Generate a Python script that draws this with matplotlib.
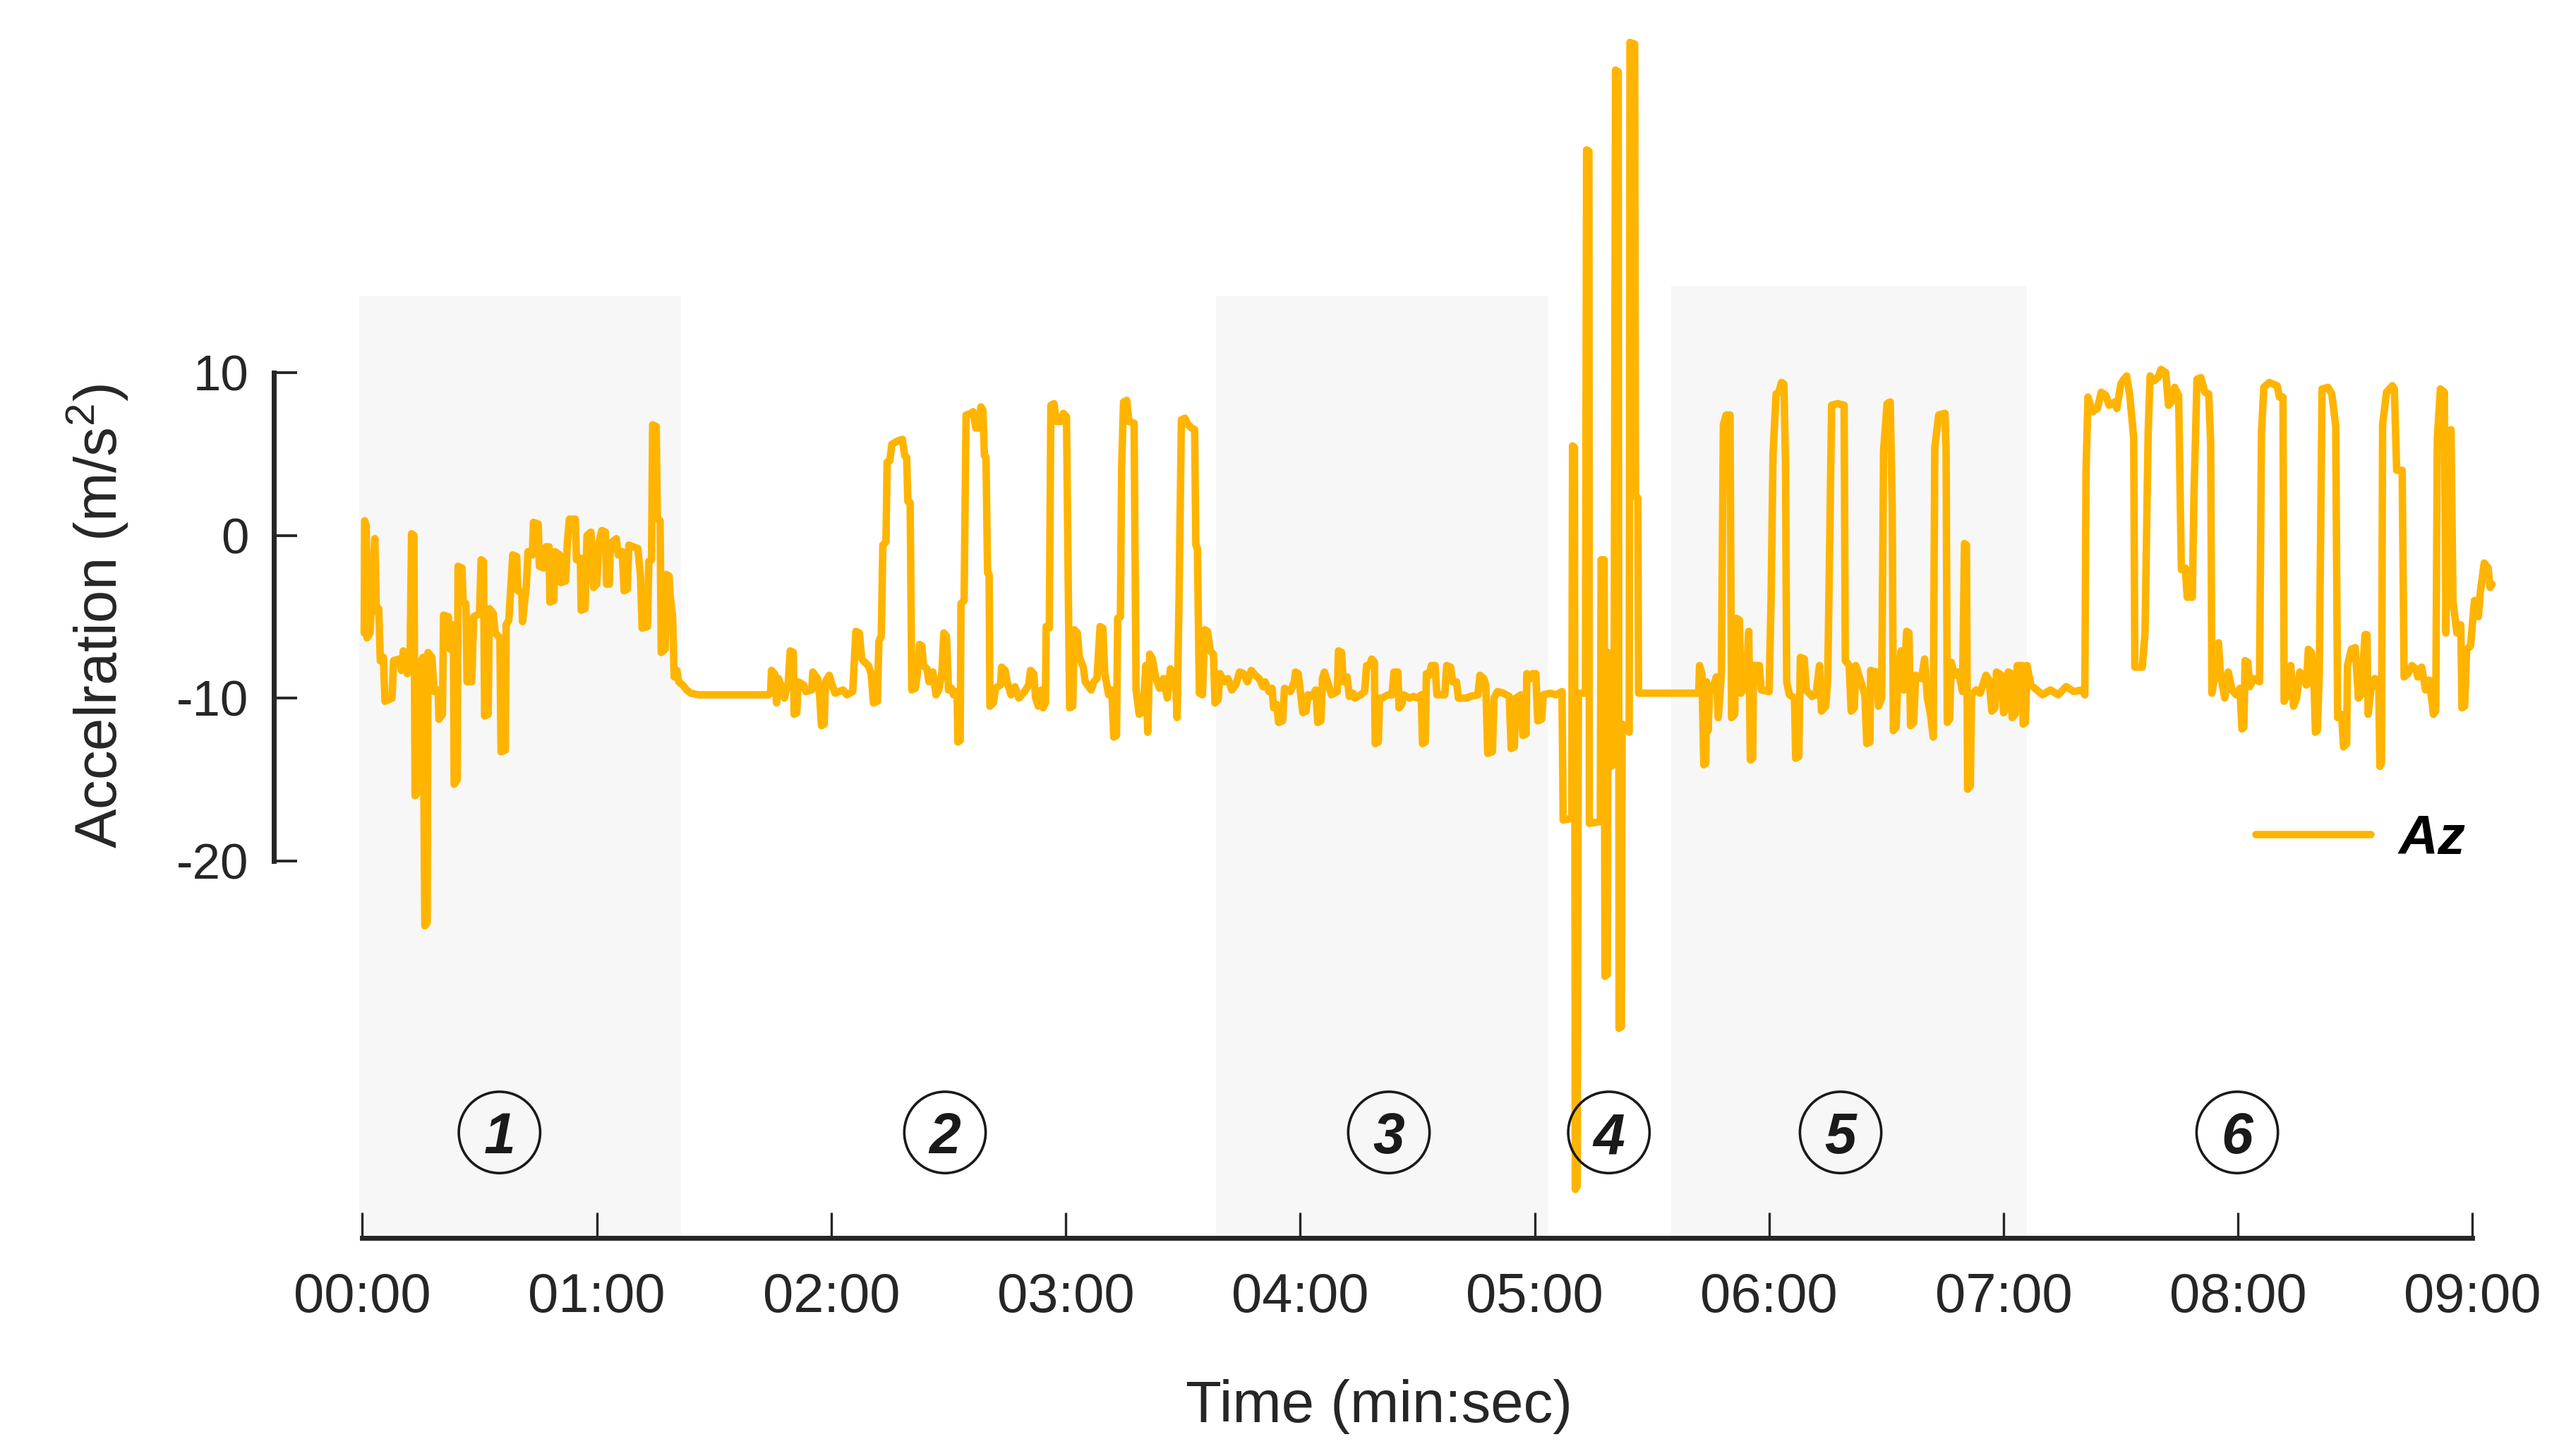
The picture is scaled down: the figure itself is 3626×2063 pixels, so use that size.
"""
Az acceleration over a 9 minute recording, split into six phases
"""
import numpy as np
import matplotlib
matplotlib.use('Agg')
import matplotlib.pyplot as plt

plt.rcParams['font.family'] = ['Liberation Sans', 'DejaVu Sans']
plt.rcParams['mathtext.fontset'] = 'custom'
plt.rcParams['mathtext.rm'] = 'Liberation Sans'
plt.rcParams['mathtext.it'] = 'Liberation Sans:italic'
plt.rcParams['mathtext.bf'] = 'Liberation Sans:bold'

# ==========================================
# DATA  (time in seconds, Az in m/s^2)
# ==========================================
phase1 = [(0.5, -6.0), (0.6, 0.9), (1.0, 0.6), (1.2, -6.3), (2.0, -6.0), (2.5, -3.0), (3.2, -0.2),
          (3.6, -4.7), (4.2, -4.5), (4.6, -7.7), (5.4, -7.5), (5.8, -10.2), (7.6, -10.0), (8.0, -7.7),
          (9.5, -7.6), (10.0, -8.3), (10.5, -7.1), (11.5, -8.5), (12.2, -8.0), (12.6, 0.1), (13.2, 0.0),
          (13.5, -16.0), (14.2, -15.8), (14.6, -8.0), (15.5, -7.5), (16.0, -24.0), (16.6, -23.8),
          (16.8, -7.2), (17.8, -7.5), (18.4, -9.6), (19.4, -9.5), (19.6, -11.3), (20.5, -11.0),
          (20.8, -4.9), (22.0, -5.0), (22.5, -7.0), (23.3, -5.5), (23.5, -15.3), (24.3, -15.0),
          (24.5, -1.9), (25.5, -2.0), (25.8, -4.1), (26.5, -4.2), (26.8, -9.0), (28.0, -9.0),
          (28.5, -5.0), (30.0, -4.8), (30.4, -1.5), (31.0, -1.6), (31.3, -11.1), (32.2, -11.0),
          (32.5, -4.5), (33.5, -4.8), (34.0, -6.0), (35.2, -6.3), (35.5, -13.3), (36.6, -13.2),
          (36.8, -5.5), (37.5, -5.2), (38.5, -1.2), (39.5, -1.3), (39.8, -3.4), (40.8, -3.5),
          (41.0, -5.3), (42.0, -3.0), (42.4, -1.0), (43.5, -1.2), (43.8, 0.8), (45.0, 0.7),
          (45.3, -1.9), (46.5, -2.0), (47.0, -0.7), (47.8, -0.7), (48.0, -4.1), (49.0, -4.0),
          (49.3, -1.0), (50.5, -1.2), (50.8, -2.9), (52.0, -2.8), (52.5, -0.3), (53.0, 1.0),
          (54.5, 1.0), (54.8, -1.5), (55.8, -1.4), (56.0, -4.6), (57.0, -4.5), (57.5, 0.0),
          (58.5, 0.2), (58.8, -1.0), (59.2, -3.2), (60.0, -3.0), (60.5, -0.5), (61.3, 0.3),
          (62.2, 0.2), (62.5, -3.0), (63.2, -3.0), (63.5, -0.5), (65.0, -0.2), (65.5, -1.2),
          (66.5, -1.0), (67.0, -3.4), (67.8, -3.3), (68.2, -0.6), (70.5, -0.8), (71.2, -2.5),
          (71.6, -5.7), (73.0, -5.6), (73.3, -1.6), (74.0, -1.5), (74.3, 6.8), (75.2, 6.7),
          (75.5, 1.0), (76.2, 0.9), (76.5, -7.2), (77.5, -7.0), (77.8, -2.4), (78.5, -2.5),
          (78.8, -3.8), (79.4, -5.0), (79.8, -8.7), (80.5, -8.3), (81.0, -9.0), (82.0, -9.2),
          (83.0, -9.5), (84.0, -9.7), (86.0, -9.8), (104.0, -9.8)]

phase2 = [(104.5, -9.6), (104.7, -8.3), (105.5, -8.5), (106.0, -10.3), (106.5, -8.8), (107.5, -9.5),
          (108.0, -10.0), (109.0, -9.0), (109.5, -7.1), (110.3, -7.2), (110.5, -11.0), (111.2, -10.9),
          (111.5, -9.0), (113.0, -9.2), (113.5, -9.6), (115.0, -9.5), (115.3, -8.4), (116.5, -8.8),
          (117.0, -9.8), (117.5, -11.7), (118.2, -11.6), (118.5, -9.0), (119.5, -8.6), (120.2, -9.2),
          (121.0, -9.7), (123.0, -9.5), (124.0, -9.8), (125.5, -9.6), (126.3, -5.9), (127.2, -6.0),
          (127.8, -7.6), (129.0, -7.9), (129.5, -8.0), (130.2, -8.5), (130.8, -10.3), (131.8, -10.2),
          (132.2, -6.5), (132.8, -6.2), (133.2, -0.6), (134.0, -0.4), (134.3, 4.5), (135.0, 4.6),
          (135.5, 5.6), (137.0, 5.8), (138.2, 5.9), (138.8, 4.9), (139.3, 4.8), (139.6, 2.1),
          (140.2, 2.0), (140.6, -9.5), (141.5, -9.4), (142.0, -8.6), (142.6, -6.7), (143.2, -6.8),
          (143.6, -8.0), (144.5, -8.2), (145.0, -9.0), (146.0, -8.4), (146.8, -9.8), (147.5, -9.5),
          (148.3, -8.5), (148.8, -6.0), (149.5, -6.2), (150.0, -9.5), (150.8, -9.4), (151.3, -9.8),
          (152.2, -9.6), (152.4, -12.7), (153.0, -12.6), (153.2, -4.2), (154.0, -4.0), (154.5, 7.4),
          (155.8, 7.5), (156.3, 7.6), (157.0, 6.6), (157.8, 6.6), (158.3, 7.9), (158.8, 7.7),
          (159.2, 4.9), (159.6, 4.8), (160.0, -2.3), (160.4, -2.4), (160.6, -10.5), (161.5, -10.3),
          (162.0, -9.4), (163.3, -9.2), (163.6, -8.1), (164.5, -8.3), (165.0, -9.0), (166.0, -9.8),
          (167.0, -9.3), (168.0, -10.0), (169.5, -9.6), (170.5, -9.2), (171.0, -8.3), (171.8, -8.5),
          (172.3, -10.0), (173.0, -10.5), (173.8, -9.5), (174.2, -10.6), (174.8, -10.3), (175.0, -5.6),
          (175.8, -5.7), (176.2, 8.0), (177.0, 8.1), (177.6, 7.0), (178.8, 7.0), (179.4, 7.5),
          (180.2, 7.3), (180.6, -2.0), (181.0, -10.6), (181.8, -10.5), (182.2, -5.8), (183.0, -6.0),
          (183.5, -7.5), (184.5, -8.1), (185.0, -9.0), (186.5, -9.5), (187.2, -9.0), (188.0, -8.8),
          (188.8, -5.6), (189.5, -5.7), (190.0, -8.5), (191.0, -9.8), (191.8, -9.5), (192.3, -12.4),
          (193.0, -12.3), (193.3, -5.1), (194.0, -5.0), (194.3, 4.1), (194.8, 8.2), (195.6, 8.3),
          (196.2, 7.0), (197.5, 6.9), (198.0, -9.5), (198.8, -11.0), (199.8, -10.8), (200.5, -8.0),
          (201.0, -12.1), (201.5, -7.3), (202.2, -7.6), (203.0, -8.7), (204.0, -9.4), (205.0, -8.8),
          (206.0, -10.0), (206.8, -8.2), (207.5, -8.5), (208.2, -9.5), (208.5, -11.2), (209.0, -3.9),
          (209.6, 7.1), (210.5, 7.2), (211.3, 6.8), (212.2, 6.6), (213.0, 6.5), (213.3, -0.6),
          (213.7, -0.8), (214.2, -9.7), (215.0, -9.8), (215.6, -5.8), (216.3, -5.9), (217.0, -7.1),
          (217.8, -7.3), (218.2, -10.3), (219.0, -10.1), (219.5, -8.5), (220.5, -9.0), (221.5, -8.8),
          (222.5, -9.5), (223.5, -9.2), (224.5, -8.4)]

phase3 = [(225.5, -8.5), (226.5, -9.0), (227.5, -8.3), (228.5, -8.6), (229.5, -8.8), (230.5, -9.3),
          (231.0, -9.0), (232.0, -9.6), (232.8, -9.4), (233.2, -10.6), (234.0, -10.4), (234.5, -11.5),
          (235.5, -11.4), (236.0, -9.4), (237.5, -9.6), (238.5, -9.0), (238.8, -8.4), (239.5, -8.5),
          (240.0, -9.5), (240.7, -10.9), (241.5, -10.8), (242.0, -9.8), (243.0, -9.9), (244.0, -9.5),
          (244.5, -11.5), (245.3, -11.4), (245.7, -8.8), (246.2, -8.4), (247.0, -9.0), (248.0, -9.8),
          (249.5, -9.6), (249.8, -7.1), (250.6, -7.2), (251.0, -9.0), (252.0, -8.7), (252.6, -9.9),
          (253.5, -9.7), (254.0, -10.0), (255.5, -9.8), (256.5, -9.6), (257.0, -8.0), (257.8, -8.0),
          (258.3, -7.6), (259.0, -7.8), (259.2, -12.8), (260.0, -12.7), (260.3, -10.0), (261.0, -10.0),
          (262.5, -9.8), (263.5, -9.8), (264.0, -8.4), (265.0, -8.4), (265.3, -10.6), (266.0, -10.4),
          (266.5, -9.8), (268.0, -10.0), (269.0, -9.9), (270.0, -10.0), (271.0, -9.8), (271.3, -12.8),
          (272.0, -12.7), (272.3, -8.5), (273.0, -8.6), (273.6, -8.0), (274.5, -8.0), (275.0, -9.8),
          (277.0, -9.8), (277.5, -8.0), (278.5, -8.1), (279.0, -9.0), (280.0, -9.0), (280.5, -10.0),
          (282.5, -10.0), (283.5, -9.9), (285.5, -9.8), (286.0, -8.6), (287.0, -8.8), (287.5, -9.2),
          (288.0, -13.4), (289.2, -13.3), (289.6, -10.0), (290.5, -9.6), (292.0, -9.7), (293.5, -9.9),
          (294.0, -13.1), (294.8, -13.0), (295.2, -10.0), (296.5, -9.8), (297.0, -12.3), (297.8, -12.2),
          (298.0, -8.5), (299.0, -8.8), (299.5, -8.5), (300.3, -8.5), (300.8, -11.4), (301.8, -11.3),
          (302.2, -9.8), (304.0, -9.7), (305.5, -9.8), (307.0, -9.6)]

phase4 = [(307.3, -17.5), (309.5, -17.4), (309.7, 5.5), (310.2, 5.4), (310.4, -40.2), (310.9, -40.0),
          (311.2, -9.7), (313.0, -9.7), (313.3, 23.7), (313.9, 23.6), (314.0, -17.7), (316.8, -17.6),
          (317.0, -1.5), (317.8, -1.5), (318.0, -27.1), (318.6, -27.0), (318.8, -7.2), (319.6, -14.2),
          (320.3, -14.0), (320.7, 28.6), (321.4, 28.5), (321.6, -30.3), (322.2, -30.2), (322.4, -11.6),
          (323.5, -11.8), (324.2, -12.1), (324.4, 30.3), (325.6, 30.2), (325.8, 2.4), (326.4, 2.3),
          (326.6, -9.7), (342.0, -9.7)]

phase5 = [(342.2, -8.0), (342.8, -8.5), (343.3, -14.1), (343.8, -14.0), (344.0, -9.0), (344.4, -12.0),
          (344.8, -9.3), (345.5, -9.5), (346.5, -8.7), (347.0, -11.2), (347.8, -8.5), (348.3, 6.8),
          (349.0, 7.4), (350.0, 7.4), (350.4, -11.2), (351.2, -11.0), (351.6, -5.1), (352.4, -5.2),
          (352.8, -9.7), (353.4, -8.0), (354.0, -9.5), (354.8, -5.9), (355.2, -13.8), (355.8, -13.7),
          (356.0, -8.0), (357.5, -8.0), (358.0, -9.5), (360.0, -9.6), (360.5, -4.0), (361.0, 5.0),
          (361.8, 8.7), (362.5, 8.8), (363.2, 9.4), (363.8, 9.3), (364.2, 4.4), (364.5, -9.0),
          (365.2, -9.8), (366.5, -10.0), (366.8, -13.7), (367.6, -13.6), (368.0, -7.5), (369.0, -7.6),
          (369.5, -9.5), (371.0, -9.9), (372.0, -9.8), (372.9, -8.0), (373.4, -10.8), (374.5, -10.5),
          (375.0, -8.8), (375.4, -2.3), (376.0, 8.0), (377.5, 8.1), (379.2, 8.0), (379.5, -7.7),
          (380.5, -8.0), (381.0, -10.8), (381.8, -10.6), (382.2, -8.0), (383.5, -9.0), (384.5, -9.8),
          (385.0, -12.8), (385.8, -12.7), (386.0, -8.3), (387.5, -8.4), (388.0, -10.5), (388.8, -10.0),
          (389.3, 5.2), (390.2, 8.1), (391.0, 8.2), (391.5, 1.7), (391.8, -12.0), (392.5, -11.8),
          (393.0, -8.5), (393.8, -7.1), (394.5, -9.5), (395.2, -5.9), (395.8, -6.0), (396.2, -11.7),
          (397.0, -11.5), (397.5, -8.6), (399.0, -8.8), (399.8, -7.6), (400.5, -10.0), (401.3, -11.0),
          (402.0, -12.4), (402.4, 5.4), (403.4, 7.4), (405.0, 7.5), (405.3, 5.1), (405.6, -11.5),
          (406.2, -11.3), (406.6, -7.8), (407.5, -8.6), (408.5, -8.4), (409.5, -9.6), (410.0, -0.5),
          (410.5, -0.6), (410.8, -15.6), (411.5, -15.4), (411.8, -9.8), (413.0, -9.5), (414.0, -9.7),
          (415.5, -8.6), (416.3, -8.9), (417.0, -10.8), (417.8, -10.6), (418.2, -8.4), (419.5, -8.6),
          (420.0, -10.9), (420.8, -10.6), (421.2, -8.4), (422.0, -8.5), (422.2, -11.2), (423.0, -11.0),
          (423.5, -8.0), (424.8, -8.0), (425.0, -11.6), (425.6, -11.5), (426.0, -8.0), (427.0, -9.2),
          (428.0, -9.4), (430.0, -9.8), (432.0, -9.5), (434.0, -9.8), (436.0, -9.3), (438.0, -9.6),
          (440.0, -9.5), (440.8, -9.8)]

phase6 = [(441.1, 3.9), (441.6, 8.5), (442.8, 7.6), (444.0, 7.8), (445.0, 8.8), (446.2, 8.6),
          (447.0, 8.0), (448.5, 8.2), (449.0, 7.8), (450.0, 9.3), (450.8, 9.6), (451.5, 9.8),
          (452.3, 8.6), (453.3, 6.0), (453.6, -8.1), (455.5, -8.1), (456.2, -6.0), (457.0, 6.3),
          (457.5, 9.8), (458.5, 9.5), (459.5, 9.7), (460.3, 10.2), (461.5, 10.0), (462.2, 8.0),
          (463.0, 8.2), (463.8, 9.1), (464.8, 8.6), (465.5, -2.1), (466.5, -2.0), (467.0, -3.8),
          (468.3, -3.8), (468.7, 2.2), (469.5, 9.6), (470.5, 9.7), (471.5, 8.8), (472.5, 8.7),
          (473.0, 5.7), (473.3, -9.7), (474.0, -8.8), (475.0, -6.6), (475.5, -8.5), (476.6, -10.0),
          (477.5, -8.4), (478.5, -9.5), (479.5, -9.8), (480.5, -9.4), (481.0, -11.9), (481.5, -11.8),
          (481.8, -7.7), (482.5, -7.8), (483.0, -9.3), (484.0, -8.8), (485.5, -9.0), (486.0, 6.3),
          (486.6, 9.1), (488.0, 9.4), (490.0, 9.2), (490.6, 8.5), (491.5, 8.5), (491.8, -10.2),
          (492.6, -9.8), (493.5, -8.0), (494.2, -10.5), (495.0, -10.0), (495.8, -8.4), (496.5, -8.6),
          (497.5, -9.2), (498.0, -7.0), (498.8, -7.2), (499.5, -9.5), (499.8, -12.1), (500.3, -12.0),
          (500.8, -8.5), (501.5, 9.0), (503.0, 9.1), (504.0, 8.7), (505.0, 6.7), (505.5, -11.2),
          (506.5, -11.0), (507.0, -13.0), (507.8, -12.8), (508.0, -8.0), (509.0, -7.0), (510.0, -6.9),
          (510.8, -10.0), (511.5, -9.8), (512.5, -6.1), (513.0, -6.1), (513.3, -11.0), (514.0, -9.5),
          (515.0, -8.8), (516.0, -9.0), (516.3, -14.2), (516.7, -14.0), (517.0, 6.8), (518.0, 8.8),
          (519.5, 9.2), (520.0, 9.0), (520.6, 4.0), (522.0, 4.0), (522.5, -8.7), (523.5, -8.5),
          (524.5, -8.0), (525.5, -8.2), (526.0, -8.7), (527.0, -8.1), (528.0, -9.5), (529.0, -8.9),
          (530.0, -11.0), (530.6, -10.8), (531.0, 6.0), (531.8, 9.0), (532.8, 8.8), (533.2, -6.0),
          (533.8, 6.0), (534.5, 6.5), (535.0, -4.0), (536.0, -6.0), (537.0, -5.5), (537.3, -10.6),
          (538.0, -10.5), (538.5, -7.0), (539.5, -6.8), (540.5, -4.0), (541.5, -5.0), (542.0, -3.5),
          (543.0, -1.7), (544.0, -2.0), (544.5, -3.2), (545.0, -3.0)]

TIME_TICKS = [0, 60, 120, 180, 240, 300, 360, 420, 480, 540]
TIME_LABELS = ['00:00', '01:00', '02:00', '03:00', '04:00', '05:00', '06:00', '07:00', '08:00', '09:00']
ACC_TICKS = [-20, -10, 0, 10]
ACC_LABELS = ['-20', '-10', '0', '10']

# shaded phases: (start s, end s, top m/s^2)
SHADED = [(-0.8, 81.6, 14.75), (218.5, 303.4, 14.75), (335.0, 426.0, 15.35)]
PHASE_NAMES = ['1', '2', '3', '4', '5', '6']
PHASE_LABEL_T = [35.1, 149.1, 262.7, 319.0, 378.3, 479.8]

# ==========================================
# STYLE
# ==========================================
AZ_COLOR = '#FFB400'
SHADE_COLOR = '#F7F7F7'
INK = '#262626'
BASE_Y = -43.2      # where the time axis sits
LABEL_Y = -36.7     # row of circled phase numbers

# ==========================================
# PLOT
# ==========================================
fig = plt.figure(figsize=(18.13, 10.315), dpi=200)
ax = fig.add_axes([0, 0, 1, 1])
ax.set_xlim(-92.72, 562.14)
ax.set_ylim(-56.59, 32.91)
ax.patch.set_alpha(0)

for t0, t1, top in SHADED:
    ax.fill_between([t0, t1], BASE_Y, top, color=SHADE_COLOR, lw=0, zorder=0)

data = np.array(phase1 + phase2 + phase3 + phase4 + phase5 + phase6)
ax.plot(data[:, 0], data[:, 1], color=AZ_COLOR, lw=3.8, label='Az',
        solid_joinstyle='round', solid_capstyle='round', zorder=2)

ax.scatter(PHASE_LABEL_T, [LABEL_Y] * len(PHASE_LABEL_T), s=41.5 ** 2,
           facecolors='none', edgecolors='#1a1a1a', linewidths=1.3, zorder=3)
for t, name in zip(PHASE_LABEL_T, PHASE_NAMES):
    ax.text(t, LABEL_Y, name, ha='center', va='center_baseline', fontsize=29,
            fontweight='bold', fontstyle='italic', color='#1a1a1a', zorder=4)

# axes: floating spines
ax.spines[['top', 'right']].set_visible(False)
ax.spines['left'].set_position(('data', -22.6))
ax.spines['left'].set_bounds(-20, 10)
ax.spines['bottom'].set_position(('data', BASE_Y))
ax.spines['bottom'].set_bounds(0, 540)
for side in ['left', 'bottom']:
    ax.spines[side].set_linewidth(2.5)
    ax.spines[side].set_color(INK)

ax.set_xticks(TIME_TICKS)
ax.set_xticklabels(TIME_LABELS)
ax.set_yticks(ACC_TICKS)
ax.set_yticklabels(ACC_LABELS)
ax.tick_params(axis='x', direction='in', length=13, width=1.2, pad=17,
               labelsize=28, color=INK, labelcolor=INK)
ax.tick_params(axis='y', direction='in', length=12, width=1.4, pad=13,
               labelsize=25.5, color=INK, labelcolor=INK)

ax.set_xlabel('Time (min:sec)', fontsize=30, color=INK)
ax.xaxis.set_label_coords(1954 / 3626, 1 - 1993 / 2063)
ax.xaxis.label.set_va('center')
ax.set_ylabel(r'Accelration (m/s$^{2}$)', fontsize=30, color=INK)
ax.yaxis.set_label_coords(139 / 3626, 1 - 873 / 2063)
ax.yaxis.label.set_va('center')

ax.legend(loc='center left', bbox_to_anchor=(0.8814, 0.4236), bbox_transform=fig.transFigure,
          frameon=False, prop=dict(family='Liberation Sans', weight='bold', style='italic', size=28),
          handlelength=2.1, handletextpad=0.5, borderpad=0, borderaxespad=0)

fig.savefig('out.png', dpi=200, facecolor='white')
